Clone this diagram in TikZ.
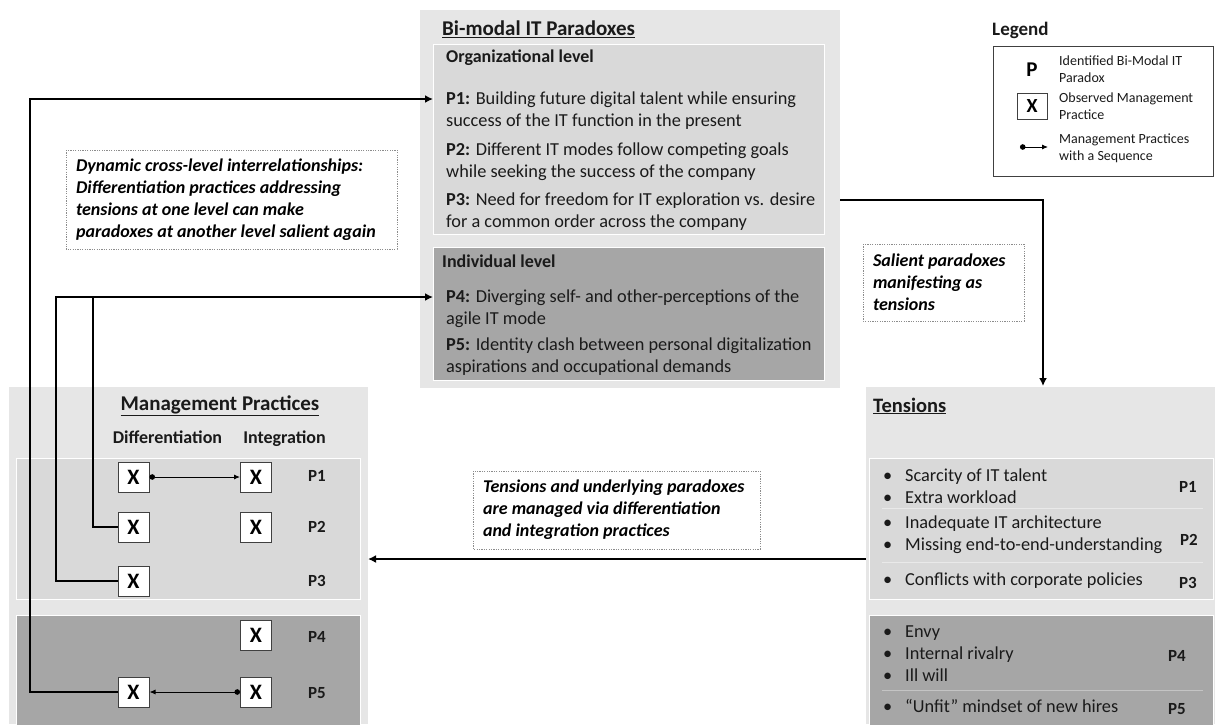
\documentclass[tikz,border=0pt]{standalone}
\usepackage{fontspec}
\setmainfont{Carlito}
\usetikzlibrary{arrows.meta}
\definecolor{boxA}{HTML}{E6E6E6}
\definecolor{boxB}{HTML}{D9D9D9}
\definecolor{boxC}{HTML}{A6A6A6}
\definecolor{ink}{HTML}{1A1A1A}
\definecolor{sepA}{HTML}{E9E9E9}
\definecolor{sepC}{HTML}{C4C4C4}
\begin{document}
\begin{tikzpicture}[x=1pt,y=-1pt,
  txt/.style={inner sep=0pt, anchor=west, align=left, text=ink, font=\fontsize{18.3}{22}\selectfont},
  hd/.style={inner sep=0pt, anchor=west, text=ink, font=\bfseries\fontsize{18}{22}\selectfont},
  ttl/.style={inner sep=0pt, text=ink, font=\bfseries\fontsize{21}{24}\selectfont},
  lgt/.style={inner sep=0pt, anchor=west, align=left, text=ink, font=\fontsize{14}{17}\selectfont},
  plab/.style={inner sep=0pt, text=ink, font=\bfseries\fontsize{17}{20}\selectfont},
  xbox/.style={draw=black!75, line width=1pt, fill=white, minimum width=31pt, minimum height=30pt, inner sep=0pt, text=black, font=\bfseries\fontsize{22}{24}\selectfont},
  note/.style={inner sep=0pt, align=flush left, text=black, font=\bfseries\itshape\fontsize{18}{22}\selectfont},
  noteframe/.style={draw=black!45, line width=0.8pt, dash pattern=on 1.2pt off 1.2pt},
  conn/.style={line width=2.6pt, black},
  carrow/.style={conn, -{Latex[length=8pt,width=8pt]}},
  seq/.style={line width=0.9pt, black, {Circle[length=5.5pt]}-{Latex[length=6pt,width=5pt]}},
  inbox/.style={draw=white, line width=1pt}
]
\useasboundingbox (0,0) rectangle (1215,724);

% ---------- Bi-modal IT Paradoxes ----------
\fill[boxA] (420,10) rectangle (840,388);
\path[inbox, fill=boxB] (433,44) rectangle (824,234);
\path[inbox, fill=boxC] (433,247) rectangle (824,380);
\node[ttl, anchor=west] (ptitle) at (442,29) {\underline{Bi-modal IT Paradoxes}};
\node[hd] (orgl) at (446,58) {Organizational level};
\node[txt] (p1t) at (446,111) {\textbf{P1:} Building future digital talent while ensuring\\success of the IT function in the present};
\node[txt] (p2t) at (446,162) {\textbf{P2:} Different IT modes follow competing goals\\while seeking the success of the company};
\node[txt] (p3t) at (446,212) {\textbf{P3:} Need for freedom for IT exploration vs. desire\\for a common order across the company};
\node[hd] (indl) at (442,261) {Individual level};
\node[txt] (p4t) at (446,309) {\textbf{P4:} Diverging self- and other-perceptions of the\\agile IT mode};
\node[txt] (p5t) at (446,357) {\textbf{P5:} Identity clash between personal digitalization\\aspirations and occupational demands};

% ---------- Legend ----------
\node[inner sep=0pt, anchor=west, text=ink, font=\bfseries\fontsize{19}{22}\selectfont] (lgtitle) at (992,30) {Legend};
\draw[draw=black!75, line width=1pt] (993,46) rectangle (1213,176);
\node[inner sep=0pt, text=black, font=\bfseries\fontsize{21}{24}\selectfont] (lgp) at (1032,70) {P};
\node[lgt] (lgpt) at (1059,69) {Identified Bi-Modal IT\\Paradox};
\node[xbox, minimum width=30pt, minimum height=26pt, font=\bfseries\fontsize{20}{22}\selectfont] (lgx) at (1032,106) {X};
\node[lgt] (lgxt) at (1059,106) {Observed Management\\Practice};
\coordinate (lga) at (1020,147);
\coordinate (lgb) at (1048,147);
\draw[seq] (lga) -- (lgb);
\node[lgt] (lgst) at (1059,148) {Management Practices\\with a Sequence};

% ---------- Management Practices ----------
\fill[boxA] (9,387) rectangle (368,724);
\path[inbox, fill=boxB] (16,458) rectangle (360,599);
\path[inbox, fill=boxC] (16,615) rectangle (360,740);
\node[ttl] (mtitle) at (220,406) {\underline{Management Practices}};
\node[hd, anchor=base] (mdiff) at (167.5,443) {Differentiation};
\node[hd, anchor=base] (minteg) at (284.5,443) {Integration};

\node[xbox] (d1) at (133.5,477) {X};
\node[xbox] (i1) at (256,477) {X};
\node[xbox] (d2) at (133.5,527) {X};
\node[xbox] (i2) at (256,527) {X};
\node[xbox] (d3) at (133.5,581) {X};
\node[xbox] (i4) at (256,635) {X};
\node[xbox] (d5) at (133.5,692) {X};
\node[xbox] (i5) at (256,692) {X};
\node[plab] (mp1) at (317,476) {P1};
\node[plab] (mp2) at (317,527) {P2};
\node[plab] (mp3) at (317,581) {P3};
\node[plab] (mp4) at (317,637) {P4};
\node[plab] (mp5) at (317,693) {P5};
\draw[seq] (d1.east) -- (i1.west);
\draw[seq] (i5.west) -- (d5.east);

% ---------- Tensions ----------
\fill[boxA] (866,387) rectangle (1215,724);
\path[inbox, fill=boxB] (869,458) rectangle (1213,599);
\draw[sepA, line width=1pt] (882,508) -- (1203,508);
\draw[sepA, line width=1pt] (882,562) -- (1203,562);
\path[inbox, fill=boxC] (869,615) rectangle (1213,740);
\draw[sepC, line width=1pt] (882,690) -- (1203,690);
\node[hd, font=\bfseries\fontsize{20.5}{24}\selectfont] (ttitle) at (873,406) {\underline{Tensions}};
\node[txt] (t1) at (882,486) {\makebox[23pt][l]{\hspace{1pt}•}Scarcity of IT talent\\\makebox[23pt][l]{\hspace{1pt}•}Extra workload};
\node[txt] (t2) at (882,535) {\makebox[23pt][l]{\hspace{1pt}•}Inadequate IT architecture\\\makebox[23pt][l]{\hspace{1pt}•}Missing end-to-end-understanding};
\node[txt] (t3) at (882,581) {\makebox[23pt][l]{\hspace{1pt}•}Conflicts with corporate policies};
\node[txt] (t4) at (882,654) {\makebox[23pt][l]{\hspace{1pt}•}Envy\\\makebox[23pt][l]{\hspace{1pt}•}Internal rivalry\\\makebox[23pt][l]{\hspace{1pt}•}Ill will};
\node[txt] (t5) at (882,706) {\makebox[23pt][l]{\hspace{1pt}•}“Unfit” mindset of new hires};
\node[plab] (tp1) at (1188,487) {P1};
\node[plab] (tp2) at (1189,540) {P2};
\node[plab] (tp3) at (1188,583) {P3};
\node[plab] (tp4) at (1177,656) {P4};
\node[plab] (tp5) at (1177,709) {P5};

% ---------- Notes ----------
\draw[noteframe] (66,150) rectangle (397,249);
\node[note, minimum width=331pt, minimum height=99pt, text width=321pt] (n1) at (236.5,199.5)
  {Dynamic cross-level interrelationships:\\Differentiation practices addressing\\tensions at one level can make\\paradoxes at another level salient again};
\draw[noteframe] (863,244) rectangle (1024,321);
\node[note, minimum width=161pt, minimum height=77pt, text width=151pt] (n2) at (948.5,282.5)
  {Salient paradoxes\\manifesting as\\tensions};
\draw[noteframe] (473,471) rectangle (760,549);
\node[note, minimum width=287pt, minimum height=78pt, text width=277pt] (n3) at (621.5,510)
  {Tensions and underlying paradoxes\\are managed via differentiation\\and integration practices};

% ---------- Connectors ----------
\coordinate (p1in) at (433,99);
\coordinate (p4in) at (433,297);
\coordinate (lc1) at (30,99);
\coordinate (lc3) at (56,297);
\coordinate (lc2) at (93,297);
\draw[carrow] (d5.west) -| (lc1) -- (p1in);
\draw[carrow] (d3.west) -| (lc3) -- (p4in);
\draw[conn] (d2.west) -| (lc2);
\coordinate (p3out) at (840,200);
\coordinate (tentop) at (1043,386);
\draw[carrow] (p3out) -| (tentop);
\coordinate (tout) at (866,559);
\coordinate (min) at (368,559);
\draw[carrow] (tout) -- (min);
\end{tikzpicture}
\end{document}
